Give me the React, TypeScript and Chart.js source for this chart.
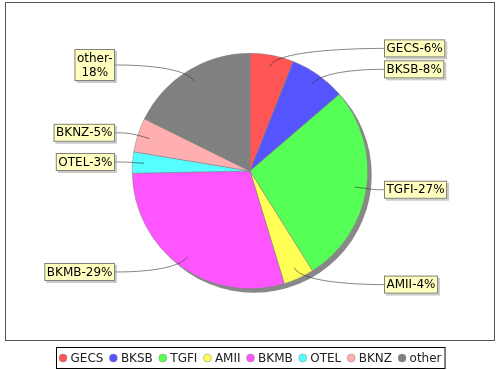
import React, { useEffect, useRef } from "react";
import { Chart, registerables } from "chart.js";

Chart.register(...registerables);

const categories = ["GECS", "BKSB", "TGFI", "AMII", "BKMB", "OTEL", "BKNZ", "other"];
const shares = [6.0, 7.7, 27.4, 4.2, 29.4, 2.9, 4.7, 17.7];
const sliceColors = ["#FF5555", "#5555FF", "#55FF55", "#FFFF55", "#FF55FF", "#55FFFF", "#FFAFAF", "#808080"];
const wrappedLabels = ["other"];

const FONT = '12px "DejaVu Sans"';
const LINE_H = 14;

const total = shares.reduce((a, b) => a + b, 0);
const labelLines = categories.map((c, i) => {
  const pct = Math.round((shares[i] / total) * 100);
  return wrappedLabels.includes(c) ? [c + "-", pct + "%"] : [c + "-" + pct + "%"];
});

const decorPlugin = {
  id: "decor",
  beforeDraw(chart: any) {
    const ctx = chart.ctx;
    ctx.save();
    ctx.fillStyle = "#ffffff";
    ctx.fillRect(0, 0, chart.width, chart.height);
    ctx.strokeStyle = "#555555";
    ctx.lineWidth = 1;
    ctx.strokeRect(5.5, 2.5, chart.width - 11, 338);
    ctx.restore();
  },
  beforeDatasetsDraw(chart: any) {
    const arc = chart.getDatasetMeta(0).data[0];
    if (!arc) return;
    const ctx = chart.ctx;
    ctx.save();
    ctx.fillStyle = "#888888";
    ctx.beginPath();
    ctx.arc(arc.x + 4, arc.y + 4, arc.outerRadius, 0, Math.PI * 2);
    ctx.fill();
    ctx.restore();
  },
  afterDatasetsDraw(chart: any) {
    const ctx = chart.ctx;
    const arcs = chart.getDatasetMeta(0).data;
    if (!arcs.length) return;
    const cx = arcs[0].x;
    const cy = arcs[0].y;
    const R = arcs[0].outerRadius;
    const Re = R * 1.06;
    ctx.save();
    ctx.font = FONT;
    const recs = arcs.map((a: any, i: number) => {
      const m = (a.startAngle + a.endAngle) / 2;
      const cs = Math.cos(m);
      const sn = Math.sin(m);
      const lines = labelLines[i];
      const w = Math.max(...lines.map((l: string) => ctx.measureText(l).width)) + 5;
      const h = lines.length * LINE_H + 4;
      return {
        i,
        right: cs >= 0,
        lx: cx + R * 0.9 * cs,
        ly: cy + R * 0.9 * sn,
        ex: cx + Re * cs,
        ey: cy + Re * sn,
        y: cy + Re * sn,
        w,
        h,
        lines,
      };
    });
    for (const side of [true, false]) {
      const s = recs.filter((r: any) => r.right === side).sort((a: any, b: any) => a.y - b.y);
      for (let k = 1; k < s.length; k++) {
        const minY = s[k - 1].y + s[k - 1].h / 2 + s[k].h / 2 + 2;
        if (s[k].y < minY) s[k].y = minY;
      }
    }
    for (const r of recs) {
      const ax = r.right ? cx + Re : cx - Re;
      const tx = r.right ? cx + 134 : cx - 135;
      ctx.strokeStyle = "#333333";
      ctx.lineWidth = 0.6;
      ctx.beginPath();
      ctx.moveTo(r.lx, r.ly);
      ctx.bezierCurveTo(r.ex, r.ey, ax, r.ey, tx, r.y);
      ctx.stroke();
      const bx = r.right ? tx : tx - r.w;
      const by = r.y - r.h / 2;
      ctx.fillStyle = "rgba(151,151,151,0.5)";
      ctx.fillRect(bx + 2, by + 2, r.w, r.h);
      ctx.fillStyle = "#FFFFC0";
      ctx.fillRect(bx, by, r.w, r.h);
      ctx.strokeStyle = "#808080";
      ctx.lineWidth = 1;
      ctx.strokeRect(bx + 0.5, by + 0.5, r.w - 1, r.h - 1);
      ctx.fillStyle = "#000000";
      ctx.textAlign = "center";
      ctx.textBaseline = "middle";
      r.lines.forEach((l: string, k: number) => {
        ctx.fillText(l, bx + r.w / 2, by + 2 + LINE_H * k + LINE_H / 2 + 0.5);
      });
    }
    ctx.restore();
  },
  afterDraw(chart: any) {
    const ctx = chart.ctx;
    ctx.save();
    ctx.font = FONT;
    const dot = 8;
    const dotGap = 3.5;
    const itemGap = 6;
    const pad = 3;
    const widths = categories.map((c) => ctx.measureText(c).width);
    const tot =
      pad * 2 + widths.reduce((s, w) => s + dot + dotGap + w, 0) + itemGap * (categories.length - 1);
    const x0 = Math.round((chart.width - tot) / 2);
    const top = 347;
    const hgt = 22;
    ctx.fillStyle = "#ffffff";
    ctx.fillRect(x0, top, tot, hgt);
    ctx.strokeStyle = "#000000";
    ctx.lineWidth = 1;
    ctx.strokeRect(x0 + 0.5, top + 0.5, tot, hgt - 1);
    let x = x0 + pad;
    const yc = top + hgt / 2;
    categories.forEach((c, i) => {
      ctx.beginPath();
      ctx.arc(x + dot / 2, yc, dot / 2, 0, Math.PI * 2);
      ctx.fillStyle = sliceColors[i];
      ctx.fill();
      ctx.strokeStyle = "#888888";
      ctx.lineWidth = 0.5;
      ctx.stroke();
      x += dot + dotGap;
      ctx.fillStyle = "#222222";
      ctx.textAlign = "left";
      ctx.textBaseline = "middle";
      ctx.fillText(c, x, yc + 0.5);
      x += widths[i] + itemGap;
    });
    ctx.restore();
  },
};

export default function App() {
  const ref = useRef<HTMLCanvasElement | null>(null);
  useEffect(() => {
    document.body.style.margin = "0";
    if (!ref.current) return;
    const chart = new Chart(ref.current, {
      type: "pie",
      data: {
        labels: categories,
        datasets: [
          {
            data: shares,
            backgroundColor: sliceColors,
            borderColor: "#808080",
            borderWidth: 0.5,
            hoverOffset: 0,
            offset: 0,
          },
        ],
      },
      options: {
        responsive: false,
        animation: false,
        events: [],
        layout: { padding: { top: 53, bottom: 81, left: 0, right: 0 } },
        plugins: {
          legend: { display: false },
          tooltip: { enabled: false },
        },
      },
      plugins: [decorPlugin],
    });
    return () => chart.destroy();
  }, []);
  return (
    <div style={{ width: 500, height: 370 }}>
      <canvas ref={ref} width={500} height={370} />
    </div>
  );
}
